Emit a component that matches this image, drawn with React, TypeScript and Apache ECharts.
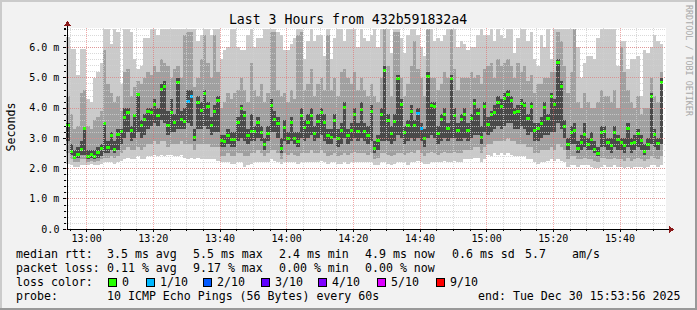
import React, { useEffect, useRef } from "react";
import * as echarts from "echarts";

// ---- data (minutes since 12:53:56, one column per minute, values in ms) ----
const median = [
  3.42, 2.59, 2.39, 2.47, 2.64, 3.33, 2.42, 2.49, 2.42, 2.53, 2.67, 3.5, 2.7, 3.11, 2.64, 3.14, 3.25, 3.69, 3.88, 3.28, 3.75, 4.45, 3.42, 3.64, 3.91, 3.88, 4.13, 3.75, 4.61, 4.74,
  3.44, 3.88, 3.53, 4.87, 3.64, 3.57, 4.23, 4.38, 3.03, 4.21, 3.94, 4.49, 4.06, 3.45, 3.9, 4.26, 2.95, 2.92, 3.09, 2.98, 2.98, 3.55, 3.99, 3.75, 3.09, 3.24, 3.23, 3.55, 3.22, 2.81,
  3.16, 4.08, 3.64, 3.51, 2.69, 3.36, 3.01, 3.53, 3.0, 2.91, 3.77, 3.38, 3.52, 3.78, 3.16, 3.57, 3.86, 3.53, 3.09, 3.05, 3.6, 3.0, 3.28, 4.02, 3.11, 3.27, 3.8, 3.23, 3.97, 3.25,
  3.09, 3.91, 2.69, 2.94, 3.8, 5.25, 3.6, 3.17, 3.58, 4.98, 4.13, 3.2, 3.45, 3.9, 3.42, 3.84, 3.33, 3.0, 5.05, 4.08, 4.06, 3.16, 3.64, 3.81, 3.35, 4.98, 3.78, 3.28, 3.64, 3.81,
  3.28, 3.66, 4.16, 3.84, 3.03, 4.05, 3.47, 3.79, 3.88, 4.21, 4.05, 4.34, 4.45, 4.27, 3.88, 3.91, 4.17, 4.08, 3.66, 4.05, 3.28, 3.33, 3.51, 4.02, 3.66, 4.41, 4.12, 5.51, 4.74, 3.39,
  2.81, 3.22, 3.28, 2.67, 2.89, 3.14, 2.82, 2.98, 2.64, 2.51, 3.2, 3.25, 2.89, 2.76, 3.22, 2.98, 2.87, 2.76, 3.33, 2.84, 2.89, 3.16, 2.95, 2.57, 2.81, 4.39, 3.13, 2.84, 4.87,
];
const pingMax = [
  6.35, 5.95, 5.95, 5.1, 5.95, 5.95, 4.3, 4.2, 5.0, 5.2, 5.5, 6.6, 6.6, 6.1, 6.6, 6.5, 4.8, 6.6, 6.6, 6.5, 5.6, 5.3, 5.4, 6.3, 6.3, 6.6, 6.6, 6.4, 6.6, 6.6,
  6.6, 6.6, 6.6, 6.6, 6.6, 6.6, 6.6, 6.6, 6.6, 6.2, 6.4, 6.6, 6.6, 6.4, 6.6, 6.6, 5.6, 5.9, 6.0, 6.6, 6.6, 6.0, 5.9, 5.9, 6.4, 6.6, 6.0, 6.3, 6.3, 6.6,
  6.6, 6.6, 6.6, 6.5, 6.4, 5.9, 5.9, 6.1, 6.3, 6.6, 6.6, 5.6, 6.2, 6.6, 6.2, 6.4, 6.4, 5.7, 6.6, 5.6, 6.3, 6.6, 6.6, 6.2, 6.6, 6.6, 6.6, 6.0, 6.6, 6.3,
  6.2, 6.4, 6.6, 6.0, 6.6, 6.6, 6.6, 5.8, 6.6, 6.6, 6.3, 5.8, 6.4, 6.6, 6.6, 6.4, 6.0, 5.7, 6.6, 6.6, 6.2, 6.3, 6.2, 6.4, 6.6, 6.6, 6.6, 6.0, 6.2, 6.1,
  5.9, 6.0, 6.0, 6.4, 6.6, 6.4, 6.4, 6.6, 6.2, 6.6, 6.4, 6.3, 6.6, 6.6, 5.8, 6.3, 6.6, 6.6, 6.2, 6.5, 5.6, 5.4, 6.4, 6.0, 6.6, 5.6, 6.6, 6.6, 6.6, 6.6,
  6.6, 6.6, 6.6, 6.0, 5.0, 5.5, 5.7, 5.7, 5.6, 6.3, 6.6, 6.6, 6.6, 6.6, 6.6, 5.4, 6.2, 6.2, 5.3, 5.6, 5.6, 5.7, 4.4, 5.9, 5.8, 6.0, 6.4, 6.2, 6.1,
];
const pingHigh = [
  4.4, 3.8, 3.3, 3.4, 4.5, 4.6, 3.4, 3.3, 3.6, 3.7, 3.9, 5.9, 4.8, 4.5, 4.2, 4.4, 3.9, 5.2, 5.3, 4.4, 4.7, 4.9, 4.8, 5.0, 5.2, 5.1, 5.4, 5.2, 5.6, 5.5,
  5.4, 5.0, 5.3, 5.4, 5.0, 6.4, 6.5, 6.5, 4.7, 5.0, 5.6, 6.4, 5.5, 5.0, 6.4, 5.2, 4.0, 4.2, 4.5, 4.3, 4.5, 4.6, 5.0, 4.6, 4.2, 5.5, 4.6, 4.4, 4.8, 4.2,
  4.5, 6.5, 6.5, 4.6, 4.4, 4.5, 4.2, 4.6, 4.3, 6.4, 6.5, 4.6, 4.8, 5.3, 4.4, 4.8, 5.0, 4.6, 6.4, 4.6, 5.0, 4.4, 5.2, 5.3, 5.0, 4.8, 5.2, 4.6, 5.0, 4.6,
  4.4, 4.8, 4.4, 4.2, 5.0, 6.6, 5.4, 4.4, 6.5, 6.5, 5.0, 4.4, 4.8, 5.4, 6.2, 5.3, 5.0, 4.4, 6.6, 5.0, 5.0, 4.6, 4.8, 5.2, 5.0, 6.6, 5.3, 4.6, 5.0, 5.0,
  5.0, 5.2, 5.0, 5.1, 4.8, 5.3, 5.4, 5.5, 5.0, 5.6, 5.4, 5.5, 5.6, 5.4, 5.0, 5.5, 5.2, 5.4, 4.9, 5.1, 4.5, 4.8, 4.8, 5.0, 5.0, 5.2, 5.2, 6.5, 6.2, 5.4,
  4.5, 5.2, 6.6, 4.2, 4.0, 4.5, 4.2, 4.0, 4.0, 4.2, 4.6, 4.4, 4.4, 4.2, 4.6, 4.0, 6.0, 5.2, 4.6, 4.2, 4.0, 4.4, 3.8, 4.0, 4.0, 5.0, 4.4, 4.2, 5.2,
];
const coreHigh = [
  3.5, 2.8, 2.6, 2.7, 2.9, 3.35, 2.6, 2.6, 2.6, 2.7, 2.8, 3.55, 2.9, 3.2, 2.9, 3.3, 3.3, 4.0, 4.0, 3.4, 3.8, 4.5, 3.6, 3.8, 4.0, 4.0, 4.3, 4.0, 4.8, 4.9,
  3.9, 4.3, 3.8, 5.0, 3.9, 4.0, 4.6, 4.6, 3.3, 4.4, 4.2, 4.6, 4.2, 3.7, 4.1, 4.4, 3.1, 3.1, 3.3, 3.2, 3.2, 3.7, 4.1, 3.9, 3.3, 3.8, 3.4, 3.7, 3.4, 3.0,
  3.4, 4.3, 3.9, 3.7, 3.0, 3.6, 3.2, 3.7, 3.2, 3.2, 4.0, 3.6, 3.8, 4.0, 3.4, 3.8, 4.0, 3.8, 3.3, 3.3, 3.8, 3.3, 3.5, 4.2, 3.3, 3.5, 4.0, 3.5, 4.2, 3.5,
  3.4, 4.1, 2.9, 3.1, 4.0, 5.4, 3.8, 3.4, 3.8, 5.1, 4.3, 3.4, 3.6, 4.1, 3.6, 4.0, 3.5, 3.3, 5.2, 4.2, 4.2, 3.4, 3.8, 4.0, 3.5, 5.1, 4.0, 3.5, 3.8, 4.0,
  3.5, 3.8, 4.3, 4.0, 3.4, 4.2, 3.7, 3.9, 4.1, 4.4, 4.3, 4.5, 4.6, 4.4, 4.0, 4.1, 4.3, 4.2, 3.8, 4.2, 3.5, 3.5, 3.7, 4.2, 3.8, 4.5, 4.3, 5.6, 4.9, 3.6,
  3.0, 3.4, 3.5, 2.9, 3.1, 3.5, 3.0, 3.2, 2.9, 2.7, 3.4, 3.4, 3.0, 3.0, 3.4, 3.1, 3.0, 3.0, 3.5, 3.0, 3.1, 3.3, 3.1, 2.8, 3.0, 4.5, 3.3, 3.0, 5.0,
];
const coreLow = [
  2.9, 2.45, 2.3, 2.35, 2.45, 2.45, 2.3, 2.35, 2.3, 2.35, 2.4, 2.5, 2.5, 2.6, 2.5, 2.6, 2.8, 3.0, 3.2, 2.9, 3.0, 3.2, 3.0, 3.1, 3.3, 3.4, 3.5, 3.4, 3.6, 3.5,
  3.1, 3.2, 3.2, 3.3, 3.3, 3.3, 3.5, 3.4, 2.9, 3.3, 3.3, 3.4, 3.3, 3.1, 3.2, 3.2, 2.7, 2.7, 2.8, 2.7, 2.7, 2.9, 3.0, 2.9, 2.8, 2.9, 2.9, 3.0, 2.9, 2.6,
  2.9, 3.2, 3.2, 3.0, 2.5, 2.9, 2.8, 2.9, 2.8, 2.7, 3.0, 2.9, 3.0, 3.1, 2.9, 3.0, 3.1, 2.9, 2.8, 2.8, 3.0, 2.7, 2.8, 3.0, 2.8, 2.9, 3.0, 2.9, 3.0, 2.9,
  2.8, 2.9, 2.5, 2.6, 2.9, 2.9, 2.9, 2.8, 2.9, 3.1, 3.0, 2.8, 2.9, 3.0, 2.9, 3.0, 2.9, 2.7, 3.0, 3.1, 3.0, 2.8, 2.9, 3.0, 2.9, 3.0, 3.0, 2.9, 2.9, 3.0,
  2.9, 3.0, 3.1, 3.1, 2.8, 3.2, 3.1, 3.2, 3.3, 3.4, 3.3, 3.4, 3.5, 3.5, 3.3, 3.3, 3.4, 3.3, 3.1, 3.2, 2.9, 2.9, 3.0, 3.1, 3.1, 3.2, 3.2, 3.5, 3.3, 3.0,
  2.6, 2.8, 2.8, 2.5, 2.6, 2.7, 2.6, 2.6, 2.5, 2.4, 2.7, 2.7, 2.6, 2.5, 2.7, 2.6, 2.6, 2.5, 2.7, 2.5, 2.6, 2.7, 2.6, 2.45, 2.6, 2.8, 2.7, 2.6, 2.8,
];
const pingLow = [
  2.5, 2.3, 2.2, 2.2, 2.3, 2.3, 2.2, 2.25, 2.2, 2.25, 2.3, 2.35, 2.35, 2.4, 2.35, 2.4, 2.5, 2.6, 2.7, 2.6, 2.6, 2.7, 2.6, 2.7, 2.8, 2.8, 2.9, 2.8, 2.9, 2.9,
  2.7, 2.8, 2.8, 2.8, 2.9, 2.8, 2.8, 2.8, 2.6, 2.8, 2.8, 2.8, 2.8, 2.7, 2.7, 2.7, 2.4, 2.4, 2.5, 2.4, 2.4, 2.5, 2.5, 2.4, 2.4, 2.5, 2.5, 2.6, 2.5, 2.4,
  2.5, 2.6, 2.6, 2.5, 2.3, 2.5, 2.45, 2.5, 2.45, 2.4, 2.5, 2.5, 2.5, 2.6, 2.5, 2.5, 2.6, 2.5, 2.4, 2.45, 2.5, 2.4, 2.45, 2.5, 2.45, 2.5, 2.55, 2.5, 2.5, 2.5,
  2.45, 2.5, 2.3, 2.35, 2.5, 2.5, 2.45, 2.4, 2.45, 2.5, 2.5, 2.45, 2.5, 2.55, 2.5, 2.6, 2.5, 2.4, 2.5, 2.55, 2.5, 2.45, 2.5, 2.55, 2.5, 2.5, 2.55, 2.5, 2.5, 2.6,
  2.6, 2.6, 2.7, 2.7, 2.5, 2.7, 2.8, 2.8, 2.9, 2.9, 2.9, 2.9, 3.0, 2.9, 2.9, 2.8, 2.8, 2.8, 2.7, 2.7, 2.5, 2.5, 2.6, 2.6, 2.6, 2.7, 2.6, 2.8, 2.7, 2.6,
  2.3, 2.4, 2.4, 2.3, 2.3, 2.35, 2.3, 2.3, 2.25, 2.2, 2.35, 2.35, 2.3, 2.3, 2.35, 2.3, 2.3, 2.25, 2.35, 2.25, 2.3, 2.35, 2.3, 2.25, 2.3, 2.4, 2.35, 2.3, 2.4,
];
const pingMin = [
  2.15, 2.1, 2.05, 2.05, 2.1, 2.1, 2.1, 2.15, 2.1, 2.1, 2.15, 2.2, 2.2, 2.2, 2.15, 2.2, 2.25, 2.3, 2.35, 2.3, 2.3, 2.4, 2.3, 2.3, 2.4, 2.4, 2.45, 2.4, 2.45, 2.4,
  2.45, 2.45, 2.4, 2.4, 2.45, 2.35, 2.3, 2.35, 2.3, 2.35, 2.3, 2.3, 2.3, 2.3, 2.3, 2.25, 2.2, 2.2, 2.2, 2.15, 2.15, 2.2, 2.2, 2.05, 2.1, 2.15, 2.2, 2.2, 2.2, 2.2,
  2.2, 2.3, 2.25, 2.2, 2.15, 2.2, 2.2, 2.2, 2.2, 2.15, 2.2, 2.2, 2.2, 2.2, 2.2, 2.2, 2.25, 2.2, 2.15, 2.2, 2.2, 2.15, 2.15, 2.2, 2.15, 2.2, 2.2, 2.2, 2.2, 2.2,
  2.2, 2.2, 2.1, 2.1, 2.2, 2.2, 2.15, 2.1, 2.15, 2.2, 2.2, 2.2, 2.1, 2.2, 2.2, 2.25, 2.2, 2.15, 2.15, 2.2, 2.2, 2.2, 2.2, 2.25, 2.2, 2.2, 2.25, 2.2, 2.2, 2.3,
  2.3, 2.3, 2.35, 2.35, 2.2, 2.3, 2.45, 2.4, 2.5, 2.45, 2.5, 2.45, 2.5, 2.45, 2.4, 2.4, 2.4, 2.4, 2.3, 2.3, 2.2, 2.15, 2.2, 2.2, 2.25, 2.3, 2.25, 2.3, 2.25, 2.2,
  2.05, 2.1, 2.1, 2.05, 2.1, 2.1, 2.1, 2.05, 2.0, 2.0, 2.05, 2.1, 2.05, 2.05, 2.1, 2.05, 2.05, 2.0, 2.05, 2.0, 2.05, 2.05, 2.05, 2.0, 2.05, 2.1, 2.1, 2.05, 2.1,
];
const lossOneTenth = [36, 37, 105, 106];

const yTickLabels = ["0.0", "1.0 m", "2.0 m", "3.0 m", "4.0 m", "5.0 m", "6.0 m"];
const xTickLabels = ["13:00", "13:20", "13:40", "14:00", "14:20", "14:40", "15:00", "15:20", "15:40"];

const legendRtt = [
  ["median rtt:", 16], ["3.5 ms avg", 107], ["5.5 ms max", 193], ["2.4 ms min", 279],
  ["4.9 ms now", 365], ["0.6 ms sd", 452], ["5.7", 525], ["am/s", 572],
];
const legendLoss = [
  ["packet loss:", 16], ["0.11 % avg", 107], ["9.17 % max", 193], ["0.00 % min", 279], ["0.00 % now", 365],
];
const lossColors = [
  ["0", "#26ff00", 108], ["1/10", "#00b8ff", 146], ["2/10", "#0059ff", 203], ["3/10", "#5e00ff", 261],
  ["4/10", "#7e00ff", 318], ["5/10", "#dd00ff", 377], ["9/10", "#ff0000", 436],
];

const START = new Date(2025, 11, 30, 12, 53, 56).getTime();
const CAT_STEP = 4000; // 4-second categories for grid placement
const N_CATS = 2701;

export default function App() {
  const ref = useRef<HTMLDivElement>(null);
  useEffect(() => {
    if (!ref.current) return;
    const chart = echarts.init(ref.current, undefined, { renderer: "svg" });
    const mono = "DejaVu Sans Mono";
    const cats: string[] = [];
    for (let i = 0; i < N_CATS; i++) {
      const d = new Date(START + i * CAT_STEP);
      cats.push(String(d.getHours()).padStart(2, "0") + ":" + String(d.getMinutes()).padStart(2, "0"));
    }
    const MAJ0 = 91; // 13:00
    const isMajor = (i: number) => i >= MAJ0 && (i - MAJ0) % 300 === 0;
    const isMinor = (i: number) => (i - 16) % 75 === 0 && i >= 16 && !isMajor(i);

    const data = median.map((m, k) => [k, m, pingMax[k], pingHigh[k], coreHigh[k], coreLow[k], pingLow[k], pingMin[k], lossOneTenth.includes(k) ? 1 : 0]);

    const txt = (text: string, x: number, y: number, extra: any = {}) => ({
      type: "text", x, y, z: 20,
      style: { text, fontFamily: mono, fontSize: 11.6, fill: "#000", align: "left", textAlign: "left", verticalAlign: "middle", textVerticalAlign: "middle", ...extra },
    });

    const graphics: any[] = [];
    graphics.push({ type: "rect", z: -10, shape: { x: 0, y: 0, width: 697, height: 2 }, style: { fill: "#cbcbcb" } });
    graphics.push({ type: "rect", z: -10, shape: { x: 0, y: 0, width: 2, height: 310 }, style: { fill: "#cbcbcb" } });
    graphics.push({ type: "rect", z: -10, shape: { x: 0, y: 308, width: 697, height: 2 }, style: { fill: "#999999" } });
    graphics.push({ type: "rect", z: -10, shape: { x: 695, y: 0, width: 2, height: 310 }, style: { fill: "#999999" } });
    graphics.push({ type: "line", z: 30, shape: { x1: 67, y1: 229.5, x2: 670, y2: 229.5 }, style: { stroke: "#000", lineWidth: 1 } });
    graphics.push({ type: "line", z: 30, shape: { x1: 67.5, y1: 230, x2: 67.5, y2: 25 }, style: { stroke: "#000", lineWidth: 1 } });
    graphics.push({ type: "polygon", z: 31, shape: { points: [[669, 226], [669, 233], [674, 229.5]] }, style: { fill: "#8b1a1a" } });
    graphics.push({ type: "polygon", z: 31, shape: { points: [[64, 26], [71, 26], [67.5, 21]] }, style: { fill: "#8b1a1a" } });
    graphics.push(txt("Last 3 Hours from 432b591832a4", 348, 19, { fontSize: 13.2, align: "center", textAlign: "center" }));
    graphics.push({ ...txt("Seconds", 11, 127, { align: "center", textAlign: "center" }), rotation: Math.PI / 2 });
    graphics.push({ ...txt("RRDTOOL / TOBI OETIKER", 688.5, 5, { fontSize: 8.4, fill: "#a9a9a9" }), rotation: -Math.PI / 2 });
    legendRtt.forEach(([t, x]) => graphics.push(txt(t as string, x as number, 254)));
    legendLoss.forEach(([t, x]) => graphics.push(txt(t as string, x as number, 268)));
    graphics.push(txt("loss color:", 16, 282));
    lossColors.forEach(([t, c, x]) => {
      graphics.push({ type: "rect", z: 20, shape: { x: (x as number) + 0.5, y: 278.5, width: 8, height: 8 }, style: { fill: c as string, stroke: "#000", lineWidth: 1 } });
      graphics.push(txt(t as string, (x as number) + 14, 282));
    });
    graphics.push(txt("probe:", 16, 296));
    graphics.push(txt("10 ICMP Echo Pings (56 Bytes) every 60s", 107, 296));
    graphics.push(txt("end: Tue Dec 30 15:53:56 2025", 478, 296));

    const gridMinor = "rgba(208,208,208,0.8)";
    const gridMajor = "rgba(228,96,96,0.55)";

    chart.setOption({
      animation: false,
      backgroundColor: "#f2f2f2",
      grid: { left: 66.4, top: 28, width: 600, height: 201, show: true, backgroundColor: "#ffffff", borderWidth: 0 },
      xAxis: [
        {
          type: "category", data: cats, boundaryGap: false, position: "bottom", z: 5,
          axisLine: { show: false },
          axisTick: { show: true, interval: (i: number) => isMajor(i), length: 3, lineStyle: { color: "#000" } },
          axisLabel: {
            interval: (i: number) => isMajor(i), margin: 4,
            formatter: (_v: string, i: number) => xTickLabels[(i - MAJ0) / 300] ?? "",
            fontFamily: mono, fontSize: 10, color: "#000",
          },
          splitLine: { show: true, interval: (i: number) => isMajor(i), lineStyle: { color: gridMajor, type: [1, 1], width: 1 } },
        },
        {
          type: "category", data: cats, boundaryGap: false, position: "bottom", z: 4,
          axisLine: { show: false },
          axisTick: { show: true, interval: (i: number) => isMinor(i), length: 2, lineStyle: { color: "#000" } },
          axisLabel: { show: false },
          splitLine: { show: true, interval: (i: number) => isMinor(i), lineStyle: { color: gridMinor, type: [1, 1], width: 1 } },
        },
        { type: "value", min: 0, max: 180, show: false, position: "top" },
      ],
      yAxis: [
        {
          type: "value", min: 0, max: 6.64, interval: 1, z: 5, position: "left",
          axisLine: { show: false },
          axisTick: { show: true, length: 3, lineStyle: { color: "#000" } },
          axisLabel: {
            margin: 7, fontFamily: mono, fontSize: 10, color: "#000", showMaxLabel: false,
            formatter: (v: number) => yTickLabels[Math.round(v)] ?? "",
          },
          splitLine: { show: true, showMaxLine: false, lineStyle: { color: gridMajor, type: [1, 1], width: 1 } },
        },
        {
          type: "value", min: 0, max: 6.64, interval: 0.2, z: 4, position: "left",
          axisLine: { show: false },
          axisTick: { show: true, length: 2, lineStyle: { color: "#000" } },
          axisLabel: { show: false },
          splitLine: { show: true, showMaxLine: false, showMinLine: false, lineStyle: { color: gridMinor, type: [1, 1], width: 1 } },
        },
      ],
      graphic: graphics,
      series: [
        {
          type: "custom", xAxisIndex: 2, yAxisIndex: 0, z: 2, clip: true,
          data,
          renderItem: (_p: any, api: any) => {
            const k = api.value(0);
            const x0 = Math.round(api.coord([k, 0])[0]);
            const x1 = Math.round(api.coord([k + 1, 0])[0]);
            const w = x1 - x0;
            const Y = (v: number) => Math.round(api.coord([k, v])[1]);
            const band = (lo: number, hi: number, fill: string) => ({
              type: "rect", shape: { x: x0, y: Y(hi), width: w, height: Y(lo) - Y(hi) }, style: { fill },
            });
            const my = Y(api.value(1));
            const loss = api.value(8);
            return {
              type: "group",
              children: [
                band(api.value(7), api.value(2), "#cacaca"),
                band(api.value(6), api.value(3), "#a0a0a0"),
                band(api.value(5), api.value(4), "#4a4a4a"),
                { type: "rect", shape: { x: x0, y: my - 1, width: w, height: 3 }, style: { fill: loss ? "#00b8ff" : "#26ff00" } },
              ],
            };
          },
        },
      ],
    });
    return () => chart.dispose();
  }, []);
  return (
    <div>
      <style>{`#smokebox svg path, #smokebox svg rect, #smokebox svg line, #smokebox svg polygon { shape-rendering: crispEdges; }`}</style>
      <div id="smokebox" ref={ref} style={{ position: "fixed", left: 0, top: 0, width: 697, height: 310 }} />
    </div>
  );
}
